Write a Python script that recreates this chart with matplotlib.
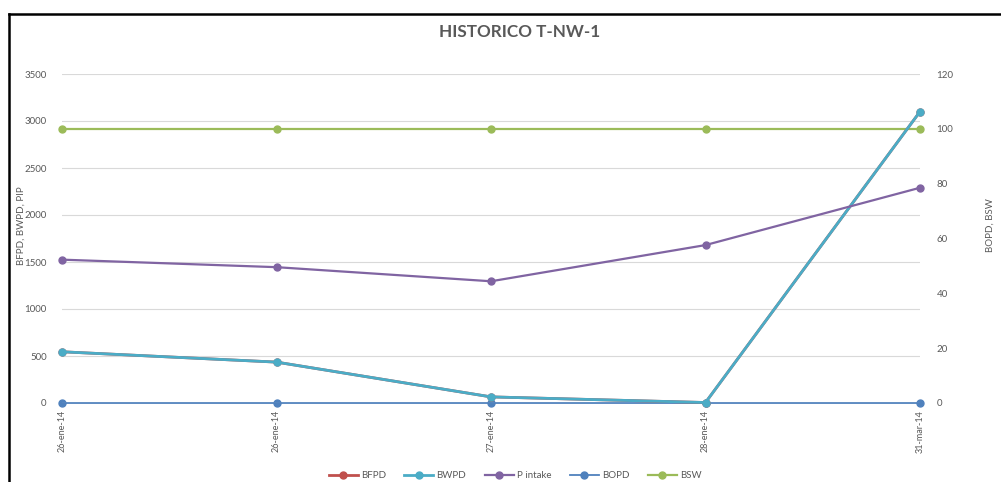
import matplotlib.pyplot as plt
from matplotlib.lines import Line2D

plt.rcParams['font.family'] = ['Lato', 'DejaVu Sans']

fechas = ["26-ene-14", "26-ene-14", "27-ene-14", "28-ene-14", "31-mar-14"]
bfpd = [545, 435, 65, 5, 3100]
bwpd = [545, 435, 65, 5, 3100]
pintake = [1525, 1445, 1295, 1680, 2290]
bopd = [0, 0, 0, 0, 0]
bsw = [100, 100, 100, 100, 100]

gris = '#595959'
x = list(range(len(fechas)))

fig = plt.figure(figsize=(10.01, 4.82), dpi=100)
ax = fig.add_axes([62/1001, 1-403/482, (920-62)/1001, (403-74)/482])
ax2 = ax.twinx()

ax.plot(x, bfpd, color='#C0504D', lw=2, marker='o', ms=5, clip_on=False, zorder=3, label='BFPD')
ax.plot(x, bwpd, color='#4BACC6', lw=2, marker='o', ms=5, clip_on=False, zorder=4, label='BWPD')
ax.plot(x, pintake, color='#8064A2', lw=1.6, marker='o', ms=5, clip_on=False, zorder=4, label='P intake')
ax2.plot(x, bopd, color='#4F81BD', lw=1.3, marker='o', ms=5, clip_on=False, zorder=3, label='BOPD')
ax2.plot(x, bsw, color='#9BBB59', lw=1.6, marker='o', ms=5, clip_on=False, zorder=3, label='BSW')

# left axis draws above the twin so BWPD sits over the flat BOPD line
ax.set_zorder(ax2.get_zorder() + 1)
ax.patch.set_visible(False)

ax.set_xlim(0, 4)
ax.set_ylim(0, 3500)
ax.set_yticks(range(0, 3501, 500))
ax2.set_ylim(0, 120)
ax2.set_yticks(range(0, 121, 20))
ax.set_xticks(x)
ax.set_xticklabels(fechas, rotation=90)

ax.grid(axis='y', color='#D9D9D9', lw=0.8)
ax.set_axisbelow(True)
for a in (ax, ax2):
    for s in a.spines.values():
        s.set_visible(False)
    a.tick_params(length=0, labelsize=7, labelcolor=gris)
ax.tick_params(axis='x', labelsize=6.5, pad=5)
ax.tick_params(axis='y', pad=11)
ax2.tick_params(axis='y', pad=12)

ax.set_ylabel('BFPD, BWPD, PIP', color=gris, fontsize=7)
ax.yaxis.set_label_coords(-0.042, 0.54)
ax2.set_ylabel('BOPD, BSW', color=gris, fontsize=7)
ax2.yaxis.set_label_coords(1.076, 0.54)

fig.text(520/1001, 1-32/482, 'HISTORICO T-NW-1', ha='center', va='center',
         fontsize=12.3, fontweight='bold', color=gris)

h1, l1 = ax.get_legend_handles_labels()
h2, l2 = ax2.get_legend_handles_labels()
fig.legend(h1 + h2, l1 + l2, loc='center', bbox_to_anchor=(515/1001, 1-476/482),
           ncol=5, frameon=False, fontsize=7, labelcolor=gris,
           handlelength=3, handletextpad=0.3, columnspacing=1.9)

# outer frame: top and left edges
fig.add_artist(Line2D([8.5/1001, 1], [1-13.5/482, 1-13.5/482], color='black', lw=1.8))
fig.add_artist(Line2D([8.5/1001, 8.5/1001], [0, 1-13.5/482], color='black', lw=1.8))

fig.savefig('out.png', dpi=100)
